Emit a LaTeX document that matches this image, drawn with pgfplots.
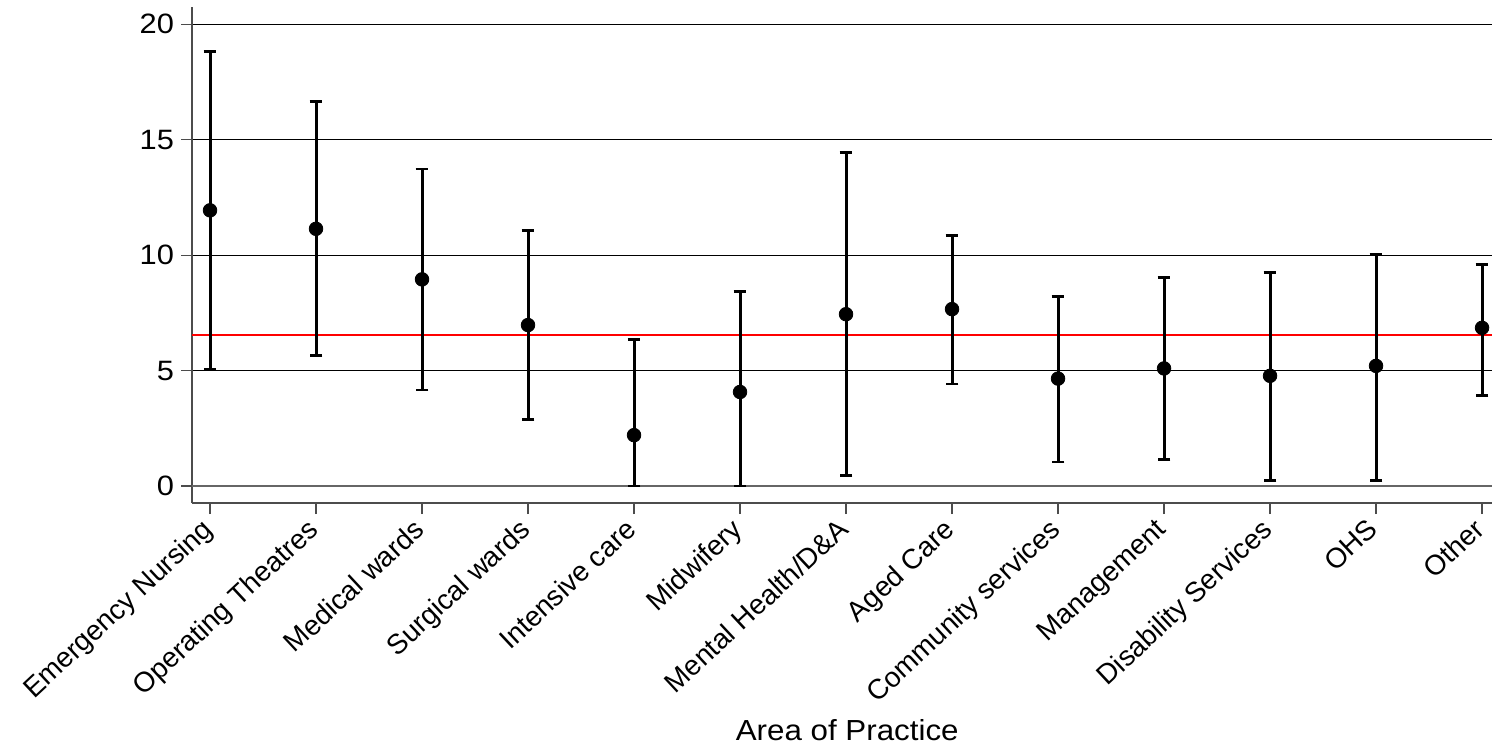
\documentclass[border=0pt]{standalone}
\usepackage{fontspec}
\setmainfont{Liberation Sans}
\usepackage{pgfplots}
\usepackage{pgfplotstable}
\pgfplotsset{compat=1.18}

\pgfplotstableread{
x  y     hi    lo
1  11.94 18.83 5.06
2  11.14 16.65 5.65
3  8.95  13.73 4.16
4  6.97  11.07 2.88
5  2.20  6.33  0.00
6  4.07  8.43  0.00
7  7.44  14.43 0.46
8  7.66  10.85 4.42
9  4.65  8.22  1.04
10 5.09  9.03  1.14
11 4.77  9.23  0.23
12 5.20  10.04 0.23
13 6.85  9.61  3.93
}\datatable

\begin{document}
\begin{tikzpicture}
\useasboundingbox (0,0) rectangle (746pt,372.5pt);
\begin{axis}[
  at={(96pt,121pt)}, anchor=south west,
  scale only axis, width=650pt, height=248pt,
  xmin=0.83, xmax=13.094, ymin=-0.74, ymax=20.75,
  axis x line*=bottom, axis y line*=left,
  axis line style={-, black!70, line width=0.7pt},
  xtick={1,...,13},
  xticklabels={Emergency Nursing, Operating Theatres, Medical wards, Surgical wards, Intensive care, Midwifery, Mental Health/D\&A, Aged Care, Community services, Management, Disability Services, OHS, Other},
  ytick={5,10,15,20},
  extra y ticks={0},
  extra y tick style={grid style={black!60, line width=0.7pt}},
  ymajorgrids,
  grid style={black, line width=0.6pt},
  tick align=outside,
  major tick length=5.5pt,
  tick style={black!70, line width=0.6pt},
  every tick label/.append style={font=\fontsize{14}{16}\selectfont, text=black},
  /pgf/number format/assume math mode=true,
  xticklabel style={rotate=43, anchor=north east, inner sep=0pt, xshift=-4.5pt, yshift=2.5pt},
  yticklabel style={xscale=1.1, inner sep=3pt},
  xlabel={Area of Practice},
  xlabel style={at={(axis description cs:0.504,-0.458)}, anchor=center, font=\fontsize{14.5}{17}\selectfont, xscale=1.08},
  clip=false,
]
\addplot[red, line width=1pt, forget plot] coordinates {(0.83,6.56) (13.094,6.56)};
\addplot[
  only marks, mark=*, mark size=3.4pt, black,
  error bars/.cd, y dir=both, y explicit,
  error bar style={line width=1.5pt, black},
  error mark options={rotate=90, mark size=3.2pt, line width=1.4pt, black},
] table[x=x, y=y,
  y error plus expr=\thisrow{hi}-\thisrow{y},
  y error minus expr=\thisrow{y}-\thisrow{lo}] {\datatable};
\end{axis}
\end{tikzpicture}
\end{document}
